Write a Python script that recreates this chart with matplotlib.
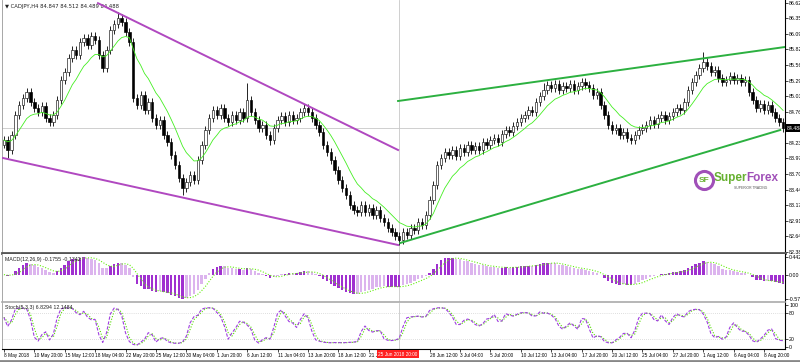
import matplotlib
matplotlib.use("Agg")
import matplotlib.pyplot as plt
import numpy as np
import pandas as pd

# CADJPY H4, one value per two H4 bars
closes = [84.284, 84.114, 84.369, 84.709, 84.879, 84.998, 85.100, 84.930, 84.828, 84.760,
          84.862, 84.658, 84.590, 84.709, 84.964, 85.304, 85.440, 85.678, 85.814, 85.729,
          85.950, 86.018, 85.899, 86.052, 85.984, 85.729, 85.508, 85.814, 86.154, 86.256,
          86.358, 86.290, 86.120, 85.950, 84.998, 84.879, 85.049, 84.794, 84.930, 84.658,
          84.539, 84.624, 84.369, 84.250, 84.029, 83.859, 83.638, 83.468, 83.570, 83.689,
          83.604, 83.944, 84.199, 84.454, 84.658, 84.794, 84.709, 84.828, 84.658, 84.590,
          84.709, 84.624, 84.760, 84.658, 84.964, 84.760, 84.624, 84.488, 84.539, 84.369,
          84.284, 84.488, 84.624, 84.692, 84.590, 84.709, 84.624, 84.658, 84.760, 84.828,
          84.760, 84.658, 84.539, 84.420, 84.199, 84.080, 83.944, 83.774, 83.604, 83.468,
          83.349, 83.179, 83.094, 83.060, 83.179, 83.060, 83.128, 83.009, 83.094, 82.958,
          82.890, 82.788, 82.720, 82.652, 82.584, 82.720, 82.669, 82.788, 82.754, 82.890,
          82.839, 83.009, 83.264, 83.519, 83.859, 83.978, 84.080, 84.029, 84.114, 84.012,
          84.148, 84.080, 84.199, 84.114, 84.182, 84.114, 84.250, 84.199, 84.284, 84.318,
          84.250, 84.386, 84.454, 84.420, 84.522, 84.590, 84.658, 84.709, 84.794, 84.760,
          84.930, 85.032, 85.134, 85.219, 85.168, 85.236, 85.134, 85.202, 85.168, 85.236,
          85.134, 85.202, 85.270, 85.219, 85.168, 85.049, 85.100, 84.879, 84.709, 84.539,
          84.454, 84.488, 84.369, 84.420, 84.318, 84.284, 84.369, 84.454, 84.488, 84.539,
          84.624, 84.556, 84.658, 84.709, 84.624, 84.692, 84.760, 84.828, 84.794, 84.930,
          85.134, 85.270, 85.389, 85.508, 85.610, 85.542, 85.440, 85.474, 85.338, 85.270,
          85.304, 85.372, 85.304, 85.338, 85.270, 85.304, 85.100, 84.964, 84.828, 84.896,
          84.794, 84.879, 84.760, 84.658, 84.590, 84.488]
first_open = 84.20
spike_highs = {30: 86.46, 64: 85.25, 184: 85.78, 142: 85.26}
spike_lows = {1: 83.98, 47: 83.35, 70: 84.20, 104: 82.50}

price_ticks = [82.380, 82.645, 82.910, 83.175, 83.440, 83.705, 83.970, 84.235, 84.500,
               84.765, 85.030, 85.295, 85.560, 85.825, 86.090, 86.355, 86.620]
date_labels = ["8 May 2018", "10 May 20:00", "15 May 12:00", "18 May 04:00", "22 May 20:00",
               "25 May 12:00", "30 May 04:00", "1 Jun 20:00", "6 Jun 12:00", "11 Jun 04:00",
               "13 Jun 20:00", "18 Jun 12:00", "21 Jun 04:00", "", "28 Jun 12:00",
               "3 Jul 04:00", "5 Jul 20:00", "10 Jul 12:00", "13 Jul 04:00", "17 Jul 20:00",
               "20 Jul 12:00", "25 Jul 04:00", "27 Jul 20:00", "1 Aug 12:00", "6 Aug 04:00",
               "8 Aug 20:00"]

# trend lines drawn on the chart: (bar, price) anchors
purple_upper = [(49.5, 86.61), (207.4, 84.114)]
purple_lower = [(-0.5, 83.978), (207.4, 82.499)]
green_upper = [(207.4, 84.947), (411, 85.865)]
green_lower = [(208.5, 82.533), (408.5, 84.454)]

W, H = 800, 362
plt.rcParams["font.family"] = ["Liberation Sans", "DejaVu Sans"]


def box(x0, y0, x1, y1):
    return [x0 / W, 1 - y1 / H, (x1 - x0) / W, (y1 - y0) / H]


c = np.array(closes)
o = np.r_[first_open, c[:-1]]
wick = 0.06
hi = np.maximum(o, c) + wick
lo = np.minimum(o, c) - wick
for k, v in spike_highs.items():
    hi[k] = v
for k, v in spike_lows.items():
    lo[k] = v
bars = np.arange(len(c)) * 2

s = pd.Series(c)
ma = s.ewm(span=10, adjust=False).mean()
macd = s.ewm(span=6, adjust=False).mean() - s.ewm(span=13, adjust=False).mean()
signal = macd.rolling(4, min_periods=1).mean()
ll = pd.Series(lo).rolling(3, min_periods=1).min()
hh = pd.Series(hi).rolling(3, min_periods=1).max()
k_line = 100 * (s - ll).rolling(2, min_periods=1).sum() / (hh - ll).rolling(2, min_periods=1).sum()
d_line = k_line.rolling(2, min_periods=1).mean()

fig = plt.figure(figsize=(8, 3.62), dpi=100)
fs = 3.8
ax1 = fig.add_axes(box(2, 0, 785, 253))
ax2 = fig.add_axes(box(2, 254, 785, 302))
ax3 = fig.add_axes(box(2, 303, 785, 349))
xl = (-1, 411)

# price panel
up = c >= o
ax1.vlines(bars, lo, hi, color="black", lw=0.6, zorder=2)
ax1.bar(bars[up], np.maximum(c - o, 0.01)[up], bottom=o[up], width=1.3,
        color="white", edgecolor="#111111", lw=0.45, zorder=3)
ax1.bar(bars[~up], np.maximum(o - c, 0.01)[~up], bottom=c[~up], width=1.3,
        color="black", edgecolor="black", lw=0.45, zorder=3)
ax1.plot(bars, ma, color="#44ee22", lw=0.6, zorder=4)
for line, col in [(purple_upper, "#b048c0"), (purple_lower, "#b048c0"),
                  (green_upper, "#2cb040"), (green_lower, "#2cb040")]:
    ax1.plot([p[0] for p in line], [p[1] for p in line], color=col, lw=1.4, zorder=5)
ax1.axhline(c[-1], color="#c8c8c8", lw=0.6, zorder=1)
ax1.set_xlim(xl)
ax1.set_ylim(82.363, 86.664)
ax1.set_yticks(price_ticks)
ax1.set_yticklabels([f"{t:.3f}" for t in price_ticks])
ax1.text(0.004, 0.985, "\u25bc CADJPY,H4 84.847 84.512 84.489 84.488", transform=ax1.transAxes,
         fontsize=fs, va="top", ha="left", color="#222222", family=["DejaVu Sans"])

# logo
ax1.plot([0.896], [0.288], transform=ax1.transAxes, marker="o", ms=13, mfc="none",
         mec="#a050b8", mew=2.2, zorder=6)
ax1.text(0.896, 0.288, "SF", transform=ax1.transAxes, fontsize=6, fontweight="bold",
         color="#66b030", ha="center", va="center")
ax1.text(0.951, 0.295, "Super", transform=ax1.transAxes, fontsize=8.5, fontweight="bold",
         color="#66b030", ha="right", va="center")
ax1.text(0.951, 0.295, "Forex", transform=ax1.transAxes, fontsize=8.5, fontweight="bold",
         color="#a050b8", ha="left", va="center")
ax1.text(0.935, 0.255, "SUPERIOR TRADING", transform=ax1.transAxes, fontsize=2.4,
         color="#555555", ha="left", va="center")

# MACD panel (window scales to the visible min/max, as in the terminal)
mv = macd.values
grow = np.r_[True, np.abs(mv[1:]) >= np.abs(mv[:-1])]
ax2.bar(bars, mv, width=1.3, color=np.where(grow, "#a030d0", "#dcb4ee"), zorder=2)
ax2.plot(bars, signal, color="#66ee11", lw=0.8, ls=(0, (1, 1.5)), zorder=3)
ax2.set_xlim(xl)
top, bot = max(mv.max(), signal.max()), min(mv.min(), signal.min())
pad = (top - bot) * 0.07
ax2.set_ylim(bot - pad, top + pad)
ax2.set_yticks([top, 0.0, bot])
ax2.set_yticklabels(["0.4422", "0.00", "-0.5773"])
ax2.text(0.004, 0.93, "MACD(12,26,9) -0.1755 -0.1342", transform=ax2.transAxes,
         fontsize=fs, va="top", ha="left", color="#222222")

# Stochastic panel
ax3.plot(bars, k_line, color="#a040e0", lw=0.8, ls=(0, (3, 1.5)), zorder=3)
ax3.plot(bars, d_line, color="#55dd00", lw=0.8, ls=(0, (1, 1.5)), zorder=2)
for lvl in (80, 20):
    ax3.axhline(lvl, color="#c0c0c0", lw=0.5, ls=(0, (1, 2)), zorder=1)
ax3.set_xlim(xl)
ax3.set_ylim(-4.8, 104.8)
ax3.set_yticks([100, 80, 20, 0])
ax3.set_yticklabels(["100", "80", "20", "0"])
ax3.text(0.004, 0.96, "Stoch(5,3,3) 6.8294 12.1484", transform=ax3.transAxes,
         fontsize=fs, va="top", ha="left", color="#222222")
ax3.set_xticks(np.arange(len(date_labels)) * 16)
ax3.set_xticklabels(date_labels, ha="left", fontsize=3.4)
ax3.tick_params(axis="x", length=2, width=0.5, pad=1, direction="out")

for ax in (ax1, ax2, ax3):
    ax.axvline(208, color="#c8c8c8", lw=0.6, zorder=0)
    ax.yaxis.tick_right()
    ax.tick_params(axis="y", labelsize=fs, length=2, width=0.5, pad=1)
    ax.spines["top"].set_visible(False)
    ax.spines["left"].set_color("#999999")
    ax.spines["left"].set_linewidth(0.6)
    ax.spines["right"].set_linewidth(0.8)
    if ax is not ax3:
        ax.set_xticks([])
ax1.spines["bottom"].set_color("#555555")
ax1.spines["bottom"].set_linewidth(2)
ax2.spines["bottom"].set_color("#aaaaaa")
ax2.spines["bottom"].set_linewidth(1.2)
ax3.spines["bottom"].set_linewidth(0.8)

# crosshair time label and bid price label (drawn over the axis labels)
fig.text(398 / W, 1 - 354 / H, "25 Jun 2018 20:00", fontsize=3.4, color="white",
         ha="center", va="center", zorder=10,
         bbox=dict(boxstyle="square,pad=0.25", fc="#ff2020", ec="none"))
fig.text(787 / W, 1 - 128 / H, f"{c[-1]:.3f}", fontsize=fs, color="white",
         ha="left", va="center", zorder=10,
         bbox=dict(boxstyle="square,pad=0.35", fc="black", ec="none"))
fig.add_artist(plt.Line2D([0, 1], [1.5 / H, 1.5 / H], color="#888888", lw=2))

fig.savefig("out.png", dpi=100)
